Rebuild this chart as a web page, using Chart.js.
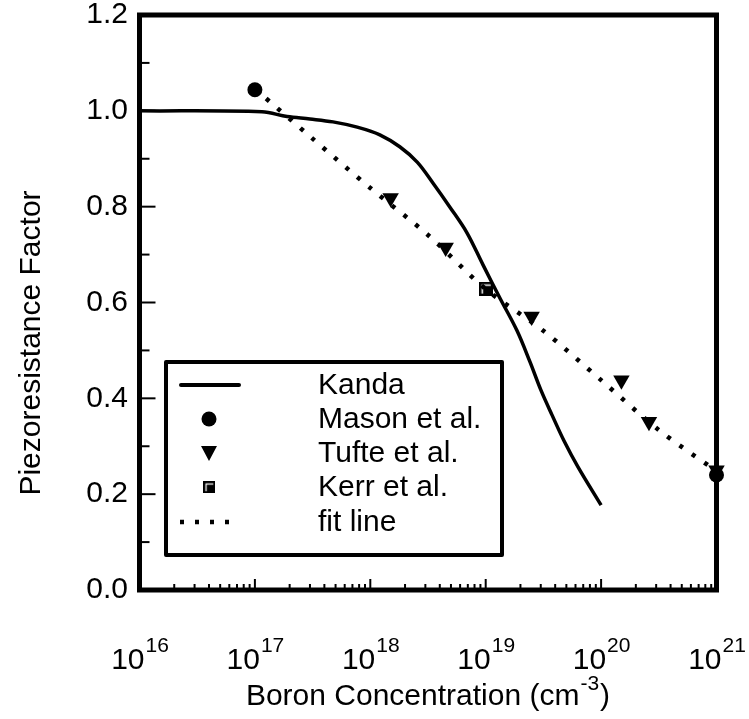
<!DOCTYPE html>
<html>
<head>
<meta charset="utf-8">
<script src="https://cdn.jsdelivr.net/npm/chart.js@4/dist/chart.umd.min.js"></script>
<style>
  html, body { margin: 0; padding: 0; background: #fff; }
  #chart { display: block; }
</style>
</head>
<body>
<canvas id="chart" width="749" height="719"></canvas>
<script>
// Kanda model curve
const kandaX = [1e16, 1.15e17, 1.9e17, 3e17, 4.75e17, 7.7e17, 1.21e18, 1.8e18, 2.55e18, 3.5e18, 4.9e18, 6.9e18, 9.5e18, 1.33e19, 1.87e19, 2.42e19, 3.01e19, 3.76e19, 4.78e19, 6.3e19, 1e20];
const kandaY = [1.0, 0.998, 0.988, 0.983, 0.977, 0.966, 0.95, 0.925, 0.893, 0.849, 0.799, 0.745, 0.678, 0.609, 0.541, 0.476, 0.417, 0.365, 0.311, 0.257, 0.177];

// measurements
const masonX = [1e17, 1e21];
const masonY = [1.044, 0.24];
const tufteX = [1.5e18, 4.5e18, 2.5e19, 1.5e20, 2.6e20, 1e21];
const tufteY = [0.818, 0.715, 0.571, 0.438, 0.351, 0.25];
const kerrX = [1e19];
const kerrY = [0.629];

// fit line
const fitX = [1e17, 3.16e17, 1e18, 3.16e18, 1e19, 3.16e19, 1e20, 3.16e20, 1e21];
const fitY = [1.046, 0.942, 0.839, 0.741, 0.628, 0.541, 0.438, 0.334, 0.248];

const xDecades = [16, 17, 18, 19, 20, 21];
const yTicks = [0.0, 0.2, 0.4, 0.6, 0.8, 1.0, 1.2];
const legendLabels = ['Kanda', 'Mason et al.', 'Tufte et al.', 'Kerr et al.', 'fit line'];

const FONT = '"Liberation Sans", Arial, sans-serif';

const pts = (xs, ys) => xs.map((x, i) => ({ x, y: ys[i] }));

// square marker with a white inner corner
function kerrMarker() {
    const c = document.createElement('canvas');
    c.width = 14; c.height = 14;
    const g = c.getContext('2d');
    g.fillStyle = '#000';
    g.fillRect(0, 0, 14, 14);
    g.strokeStyle = '#fff';
    g.lineWidth = 1.5;
    g.beginPath();
    g.moveTo(3.5, 12); g.lineTo(3.5, 3.5); g.lineTo(12, 3.5);
    g.stroke();
    return c;
}
const kerrImg = kerrMarker();

const framePlugin = {
    id: 'frame',
    afterDatasetsDraw(chart) {
        const ctx = chart.ctx;
        const a = chart.chartArea;
        const xs = chart.scales.x, ys = chart.scales.y;
        ctx.save();
        ctx.strokeStyle = '#000';

        // x ticks inside, along the bottom
        ctx.lineWidth = 2;
        for (let d = xDecades[0]; d < xDecades[xDecades.length - 1]; d++) {
            for (let m = 1; m <= 9; m++) {
                const px = xs.getPixelForValue(m * Math.pow(10, d));
                const len = m === 1 ? 11 : 6;
                ctx.beginPath();
                ctx.moveTo(px, a.bottom);
                ctx.lineTo(px, a.bottom - len);
                ctx.stroke();
            }
        }
        // y ticks inside, along the left
        for (let i = 1; i < 12; i++) {
            const py = ys.getPixelForValue(i / 10);
            const len = i % 2 === 0 ? 16 : 10;
            ctx.beginPath();
            ctx.moveTo(a.left, py);
            ctx.lineTo(a.left + len, py);
            ctx.stroke();
        }

        // box
        ctx.lineWidth = 5;
        ctx.lineJoin = 'miter';
        ctx.strokeRect(a.left, a.top, a.right - a.left, a.bottom - a.top);

        // tick labels
        ctx.fillStyle = '#000';
        ctx.font = '30px ' + FONT;
        ctx.textAlign = 'right';
        ctx.textBaseline = 'middle';
        yTicks.forEach(v => ctx.fillText(v.toFixed(1), 128, ys.getPixelForValue(v)));

        ctx.textBaseline = 'alphabetic';
        ctx.textAlign = 'left';
        xDecades.forEach(d => {
            const px = xs.getPixelForValue(Math.pow(10, d));
            ctx.font = '30px ' + FONT;
            const w1 = ctx.measureText('10').width;
            ctx.font = '21px ' + FONT;
            const w2 = ctx.measureText(String(d)).width;
            const x0 = px - (w1 + w2) / 2;
            ctx.font = '30px ' + FONT;
            ctx.fillText('10', x0, 669);
            ctx.font = '21px ' + FONT;
            ctx.fillText(String(d), x0 + w1 + 1, 652);
        });

        // x title with superscript
        ctx.font = '30px ' + FONT;
        const t1 = 'Boron Concentration (cm', t3 = ')';
        const w1 = ctx.measureText(t1).width, w3 = ctx.measureText(t3).width;
        ctx.font = '21px ' + FONT;
        const w2 = ctx.measureText('-3').width;
        let tx = 428 - (w1 + w2 + w3 + 2) / 2;
        ctx.font = '30px ' + FONT;
        ctx.fillText(t1, tx, 705);
        ctx.font = '21px ' + FONT;
        ctx.fillText('-3', tx + w1 + 1, 690);
        ctx.font = '30px ' + FONT;
        ctx.fillText(t3, tx + w1 + w2 + 2, 705);

        // y title
        ctx.save();
        ctx.translate(40, 343);
        ctx.rotate(-Math.PI / 2);
        ctx.textAlign = 'center';
        ctx.fillText('Piezoresistance Factor', 0, 0);
        ctx.restore();

        // legend
        const L = { left: 166, top: 362, right: 502, bottom: 555 };
        ctx.fillStyle = '#fff';
        ctx.fillRect(L.left, L.top, L.right - L.left, L.bottom - L.top);
        ctx.lineWidth = 4;
        ctx.lineJoin = 'round';
        ctx.strokeRect(L.left, L.top, L.right - L.left, L.bottom - L.top);
        ctx.fillStyle = '#000';
        ctx.font = '30px ' + FONT;
        ctx.textBaseline = 'middle';
        ctx.textAlign = 'left';
        const rowY = [385, 419, 453, 487, 522];
        const sx = 209;
        legendLabels.forEach((lab, i) => {
            const y = rowY[i];
            ctx.fillText(lab, 318, y + 1);
            ctx.strokeStyle = '#000';
            if (i === 0) {
                ctx.lineWidth = 4;
                ctx.setLineDash([]);
                ctx.lineCap = 'round';
                ctx.beginPath(); ctx.moveTo(181, y); ctx.lineTo(239, y); ctx.stroke();
            } else if (i === 1) {
                ctx.beginPath(); ctx.arc(sx, y, 7.5, 0, Math.PI * 2); ctx.fill();
            } else if (i === 2) {
                ctx.beginPath();
                ctx.moveTo(sx - 8, y - 7); ctx.lineTo(sx + 8, y - 7); ctx.lineTo(sx, y + 8);
                ctx.closePath(); ctx.fill();
            } else if (i === 3) {
                ctx.drawImage(kerrImg, sx - 6, y - 6, 12, 12);
            } else {
                ctx.lineWidth = 4.5;
                ctx.lineCap = 'butt';
                ctx.setLineDash([4, 11]);
                ctx.beginPath(); ctx.moveTo(180, y); ctx.lineTo(240, y); ctx.stroke();
                ctx.setLineDash([]);
            }
        });
        ctx.restore();
    }
};

new Chart(document.getElementById('chart'), {
    type: 'scatter',
    data: {
        datasets: [
            {
                label: 'Kanda',
                data: pts(kandaX, kandaY),
                showLine: true,
                borderColor: '#000',
                borderWidth: 3.5,
                pointRadius: 0,
                tension: 0.35,
                clip: false
            },
            {
                label: 'fit line',
                data: pts(fitX, fitY),
                showLine: true,
                borderColor: '#000',
                borderWidth: 4.5,
                borderDash: [4, 11],
                pointRadius: 0,
                tension: 0.3,
                clip: false
            },
            {
                label: 'Mason et al.',
                data: pts(masonX, masonY),
                pointStyle: 'circle',
                pointRadius: 7.5,
                backgroundColor: '#000',
                borderColor: '#000',
                borderWidth: 0,
                clip: false
            },
            {
                label: 'Tufte et al.',
                data: pts(tufteX, tufteY),
                pointStyle: 'triangle',
                rotation: 180,
                pointRadius: 9.5,
                backgroundColor: '#000',
                borderColor: '#000',
                borderWidth: 0,
                clip: false
            },
            {
                label: 'Kerr et al.',
                data: pts(kerrX, kerrY),
                pointStyle: kerrImg,
                clip: false
            }
        ]
    },
    options: {
        responsive: false,
        animation: false,
        layout: { padding: { left: 139.5, right: 32.5, top: 15, bottom: 129 } },
        plugins: {
            legend: { display: false },
            tooltip: { enabled: false }
        },
        scales: {
            x: { type: 'logarithmic', min: 1e16, max: 1e21, display: false },
            y: { type: 'linear', min: 0, max: 1.2, display: false }
        }
    },
    plugins: [framePlugin]
});
</script>
</body>
</html>
